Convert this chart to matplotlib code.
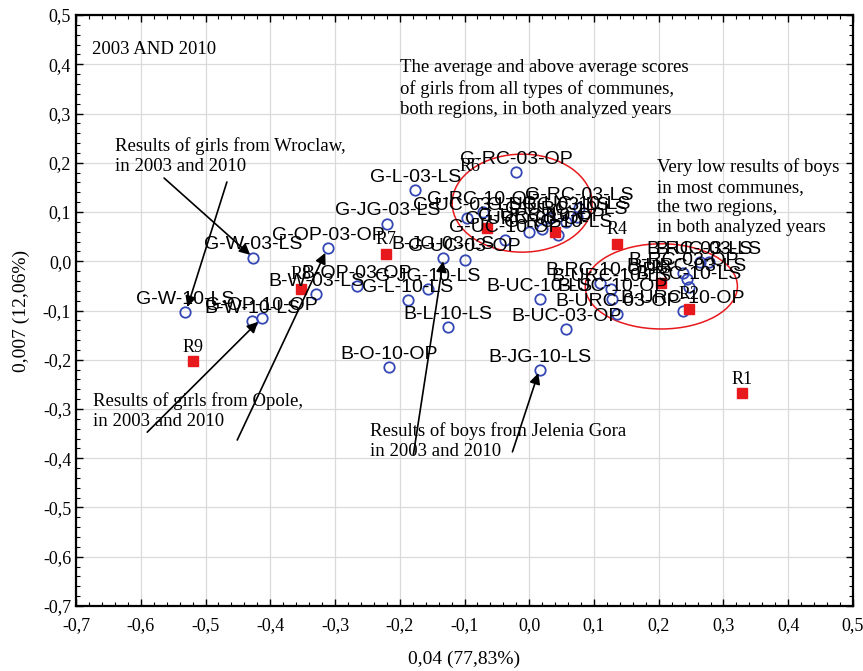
import matplotlib
matplotlib.use('Agg')
import matplotlib.pyplot as plt
from matplotlib.patches import Ellipse
from matplotlib.ticker import MultipleLocator, FuncFormatter

plt.rcParams['font.family'] = 'Liberation Serif'

# column points: gender - commune type - year - region
point_labels = [
    'G-W-03-LS', 'G-W-10-LS', 'G-OP-03-OP', 'G-OP-10-OP', 'G-L-03-LS',
    'G-L-10-LS', 'G-JG-03-LS', 'G-JG-10-LS', 'G-RC-03-OP', 'G-RC-10-OP',
    'G-UC-03-LS', 'G-UC-10-OP', 'G-UC-03-OP', 'G-URC-03-OP', 'G-URC-10-OP',
    'G-RC-10-LS', 'G-URC-10-LS', 'G-UC-10-LS', 'G-RC-03-LS', 'G-URC-03-LS',
    'B-W-03-LS', 'B-W-10-LS', 'B-OP-03-OP', 'B-O-10-OP', 'B-L-10-LS',
    'B-JG-03-LS', 'B-JG-10-LS', 'B-UC-10-LS', 'B-UC-03-OP', 'B-RC-10-OP',
    'B-URC-10-LS', 'B-UC-10-OP', 'B-URC-03-OP', 'B-RC-03-OP', 'B-URC-03-LS',
    'B-RC-10-LS', 'B-URC-10-OP', 'B-RC-03-LS', 'B-UC-03-LS',
]
point_x = [
    -0.426, -0.532, -0.311, -0.413, -0.176,
    -0.188, -0.219, -0.157, -0.020, -0.071,
    -0.096, -0.037, -0.100, -0.001, 0.019,
    0.045, 0.057, 0.073, 0.077, 0.030,
    -0.329, -0.428, -0.266, -0.216, -0.125,
    -0.133, 0.016, 0.016, 0.057, 0.110,
    0.127, 0.128, 0.136, 0.238, 0.243,
    0.246, 0.237, 0.263, 0.277,
]
point_y = [
    0.007, -0.103, 0.027, -0.115, 0.145,
    -0.079, 0.076, -0.056, 0.181, 0.100,
    0.088, 0.043, 0.003, 0.059, 0.065,
    0.053, 0.080, 0.090, 0.108, 0.088,
    -0.067, -0.121, -0.050, -0.215, -0.134,
    0.007, -0.221, -0.077, -0.138, -0.044,
    -0.056, -0.077, -0.107, -0.024, -0.036,
    -0.052, -0.101, -0.002, -0.002,
]

# row points: result levels
row_labels = ['R1', 'R2', 'R3', 'R4', 'R5', 'R6', 'R7', 'R8', 'R9']
row_x = [0.328, 0.246, 0.204, 0.136, 0.040, -0.065, -0.221, -0.352, -0.519]
row_y = [-0.268, -0.097, -0.044, 0.035, 0.059, 0.067, 0.015, -0.056, -0.203]


def comma_fmt(v, pos):
    v = round(v, 2)
    if v == 0:
        v = 0.0
    return f'{v:.1f}'.replace('.', ',')


fig = plt.figure(figsize=(8.63, 6.71), dpi=100)
ax = fig.add_axes([0.0881, 0.0969, 0.9003, 0.8807])

ax.set_xlim(-0.7, 0.5)
ax.set_ylim(-0.7, 0.5)
ax.xaxis.set_major_locator(MultipleLocator(0.1))
ax.yaxis.set_major_locator(MultipleLocator(0.1))
ax.xaxis.set_minor_locator(MultipleLocator(0.02))
ax.yaxis.set_minor_locator(MultipleLocator(0.02))
ax.xaxis.set_major_formatter(FuncFormatter(comma_fmt))
ax.yaxis.set_major_formatter(FuncFormatter(comma_fmt))
ax.tick_params(which='both', direction='in', top=True, right=True, labelsize=13)
ax.tick_params(which='major', length=5, width=1)
ax.tick_params(which='minor', length=3, width=0.8)
ax.tick_params(axis='x', pad=8)
ax.grid(True, which='major', color='#dadada', lw=0.9)
ax.set_axisbelow(True)
for s in ax.spines.values():
    s.set_linewidth(1.6)

ax.set_xlabel('0,04 (77,83%)', fontsize=14, labelpad=12)
ax.set_ylabel('0,007 (12,06%)', fontsize=14, labelpad=9)

# blue open circles and red squares
ax.plot(point_x, point_y, 'o', mfc='none', mec='#3447b4', ms=7.5, mew=1.3, zorder=3)
ax.plot(row_x, row_y, 's', color='#e8191c', ms=7, zorder=3)

for lab, x, y in zip(point_labels, point_x, point_y):
    ax.annotate(lab, (x, y), xytext=(0, 6), textcoords='offset points',
                ha='center', va='baseline', fontsize=14,
                family='Liberation Sans', zorder=4)

row_label_at = {'R6': (-0.091, 0.183)}
for lab, x, y in zip(row_labels, row_x, row_y):
    if lab in row_label_at:
        ax.text(*row_label_at[lab], lab, ha='center', va='baseline', fontsize=13, zorder=4)
    else:
        ax.annotate(lab, (x, y), xytext=(0, 7), textcoords='offset points',
                    ha='center', va='baseline', fontsize=13, zorder=4)

# groups circled in red
ax.add_patch(Ellipse((-0.011, 0.118), 0.216, 0.199, fill=False, ec='#e8191c', lw=1.1, zorder=2))
ax.add_patch(Ellipse((0.204, -0.051), 0.235, 0.173, fill=False, ec='#e8191c', lw=1.1, zorder=2))

# notes
note_size = 13.5
ax.text(-0.675, 0.429, '2003 AND 2010', fontsize=note_size, va='center')
ax.text(-0.199, 0.41,
        'The average and above average scores\nof girls from all types of communes,\nboth regions, in both analyzed years',
        fontsize=note_size, va='top', linespacing=1.25)
ax.text(-0.640, 0.252, 'Results of girls from Wroclaw,\nin 2003 and 2010',
        fontsize=note_size, va='top', linespacing=1.25)
ax.text(0.198, 0.210, 'Very low results of boys\nin most communes,\nthe two regions,\nin both analyzed years',
        fontsize=note_size, va='top', linespacing=1.25)
ax.text(-0.674, -0.265, 'Results of girls from Opole,\nin 2003 and 2010',
        fontsize=note_size, va='top', linespacing=1.25)
ax.text(-0.246, -0.326, 'Results of boys from Jelenia Gora\nin 2003 and 2010',
        fontsize=note_size, va='top', linespacing=1.25)

arrows = [
    ((-0.564, 0.169), (-0.431, 0.013)),
    ((-0.467, 0.161), (-0.528, -0.093)),
    ((-0.590, -0.347), (-0.419, -0.123)),
    ((-0.451, -0.363), (-0.315, 0.017)),
    ((-0.179, -0.393), (-0.133, 0.000)),
    ((-0.026, -0.387), (0.014, -0.227)),
]
for tail, head in arrows:
    ax.annotate('', xy=head, xytext=tail,
                arrowprops=dict(arrowstyle='-|>', color='black', lw=1.2,
                                mutation_scale=16, shrinkA=0, shrinkB=0),
                zorder=5)

fig.savefig('out.png', dpi=100)
